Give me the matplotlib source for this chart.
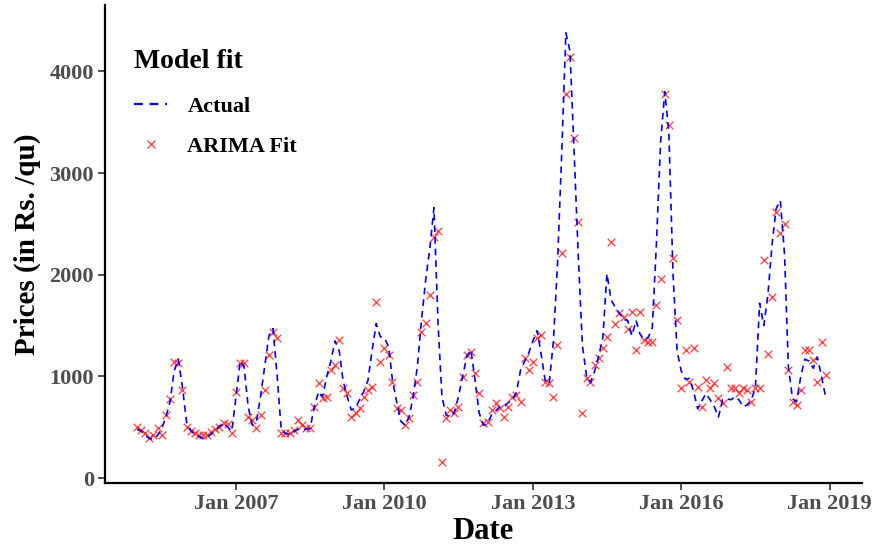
import matplotlib
matplotlib.use('Agg')
import matplotlib.pyplot as plt
import matplotlib.dates as mdates
from matplotlib.lines import Line2D
import pandas as pd
from datetime import datetime

# monthly series, Jan 2005 .. Dec 2018
fechas = pd.date_range('2005-01-01', periods=168, freq='MS')

actual = [
    480, 460, 420, 390, 380, 420, 480, 600, 750, 1050, 1170, 900,      # 2005
    550, 470, 430, 410, 390, 400, 430, 470, 510, 540, 500, 460,        # 2006
    800, 1150, 1100, 700, 520, 560, 800, 1100, 1400, 1470, 1000, 470,  # 2007
    440, 430, 450, 480, 470, 480, 490, 700, 850, 800, 1000, 1150,      # 2008
    1350, 1250, 960, 800, 670, 690, 770, 850, 960, 1250, 1520, 1390,   # 2009
    1380, 1290, 960, 750, 560, 520, 600, 800, 1100, 1550, 1950, 2250,  # 2010
    2660, 1500, 800, 620, 600, 650, 800, 1000, 1200, 1260, 960, 640,   # 2011
    520, 540, 620, 660, 700, 700, 740, 770, 840, 1060, 1150, 1230,     # 2012
    1350, 1450, 1230, 960, 930, 1350, 2100, 3190, 4380, 4200, 3200, 2200,  # 2013
    1300, 1000, 940, 1050, 1200, 1385, 2010, 1750, 1680, 1620, 1560, 1550,  # 2014
    1400, 1550, 1420, 1360, 1380, 1480, 2300, 3300, 3800, 3400, 2000, 1250,  # 2015
    1050, 970, 980, 850, 680, 760, 830, 770, 700, 600, 770, 780,       # 2016
    770, 800, 770, 700, 720, 770, 890, 1720, 1500, 1800, 2300, 2650,   # 2017
    2730, 2200, 1100, 780, 750, 1000, 1170, 1150, 1080, 1190, 1000, 800,  # 2018
]

arima_fit = [
    500, 470, 440, 390, 420, 490, 420, 620, 775, 1140, 1130, 865,
    500, 460, 440, 420, 420, 420, 450, 480, 500, 540, 530, 440,
    845, 1130, 1130, 600, 570, 490, 620, 865, 1210, 1435, 1375, 440,
    440, 440, 470, 570, 520, 490, 490, 700, 935, 790, 800, 1060,
    1110, 1355, 885, 835, 600, 640, 690, 800, 865, 900, 1730, 1140,
    1280, 1210, 945, 690, 670, 520, 590, 815, 945, 1435, 1530, 1800,
    2370, 2430, 157, 590, 670, 640, 700, 990, 1210, 1240, 1030, 835,
    540, 550, 670, 735, 690, 600, 700, 800, 815, 750, 1180, 1060,
    1140, 1375, 1405, 945, 935, 800, 1305, 2210, 3780, 4140, 3350, 2515,
    640, 980, 945, 1110, 1180, 1280, 1385, 2320, 1520, 1620, 1580, 1470,
    1630, 1255, 1630, 1355, 1340, 1340, 1700, 1960, 3780, 3470, 2160, 1550,
    885, 1255, 945, 1275, 895, 700, 965, 885, 935, 785, 735, 1090,
    885, 885, 835, 885, 865, 750, 885, 885, 2140, 1225, 1780, 2615,
    2410, 2500, 1060, 750, 720, 865, 1255, 1255, 1160, 945, 1335, 1010,
]

anios_ticks = [2007, 2010, 2013, 2016, 2019]
yticks = [0, 1000, 2000, 3000, 4000]

plt.rcParams['font.family'] = ['Liberation Serif', 'DejaVu Serif']
plt.rcParams['font.weight'] = 'bold'

fig = plt.figure(figsize=(8.74, 5.47), dpi=100)
ax = fig.add_axes([0.120, 0.117, 0.866, 0.873])

ax.plot(fechas, actual, color='blue', linestyle=(0, (4, 3)), linewidth=1.2)
ax.scatter(fechas, arima_fit, marker='x', color='red', alpha=0.7, s=30, linewidths=1.0)

ax.set_xlim(datetime(2004, 5, 8), datetime(2019, 8, 25))
ax.set_ylim(-49, 4649)
ax.set_xticks([datetime(a, 1, 1) for a in anios_ticks])
ax.xaxis.set_major_formatter(mdates.DateFormatter('Jan %Y'))
ax.set_yticks(yticks)

for s in ['top', 'right']:
    ax.spines[s].set_visible(False)
for s in ['left', 'bottom']:
    ax.spines[s].set_linewidth(1.6)
ax.tick_params(axis='both', length=5, width=1.2, color='#333333',
               labelsize=16, labelcolor='#4D4D4D', pad=3)
for lab in ax.get_xticklabels() + ax.get_yticklabels():
    lab.set_fontweight('bold')

ax.set_xlabel('Date', fontsize=22, fontweight='bold', labelpad=2)
ax.set_ylabel('Prices (in Rs. /qu)', fontsize=21, fontweight='bold', labelpad=6)

handles = [
    Line2D([], [], color='blue', linestyle=(0, (4, 3)), linewidth=1.6),
    Line2D([], [], color='red', marker='x', linestyle='none', alpha=0.7, markersize=6),
]
leg = ax.legend(handles, ['Actual', 'ARIMA Fit'], title='Model fit', loc='upper left',
                bbox_to_anchor=(0.012, 0.95), frameon=False,
                title_fontsize=20, handlelength=1.5, handletextpad=0.9,
                labelspacing=0.85, alignment='left',
                prop={'weight': 'bold', 'size': 16})
leg.get_title().set_fontweight('bold')
leg._legend_box.sep = 16

fig.savefig('out.png', dpi=100)
plt.close(fig)
